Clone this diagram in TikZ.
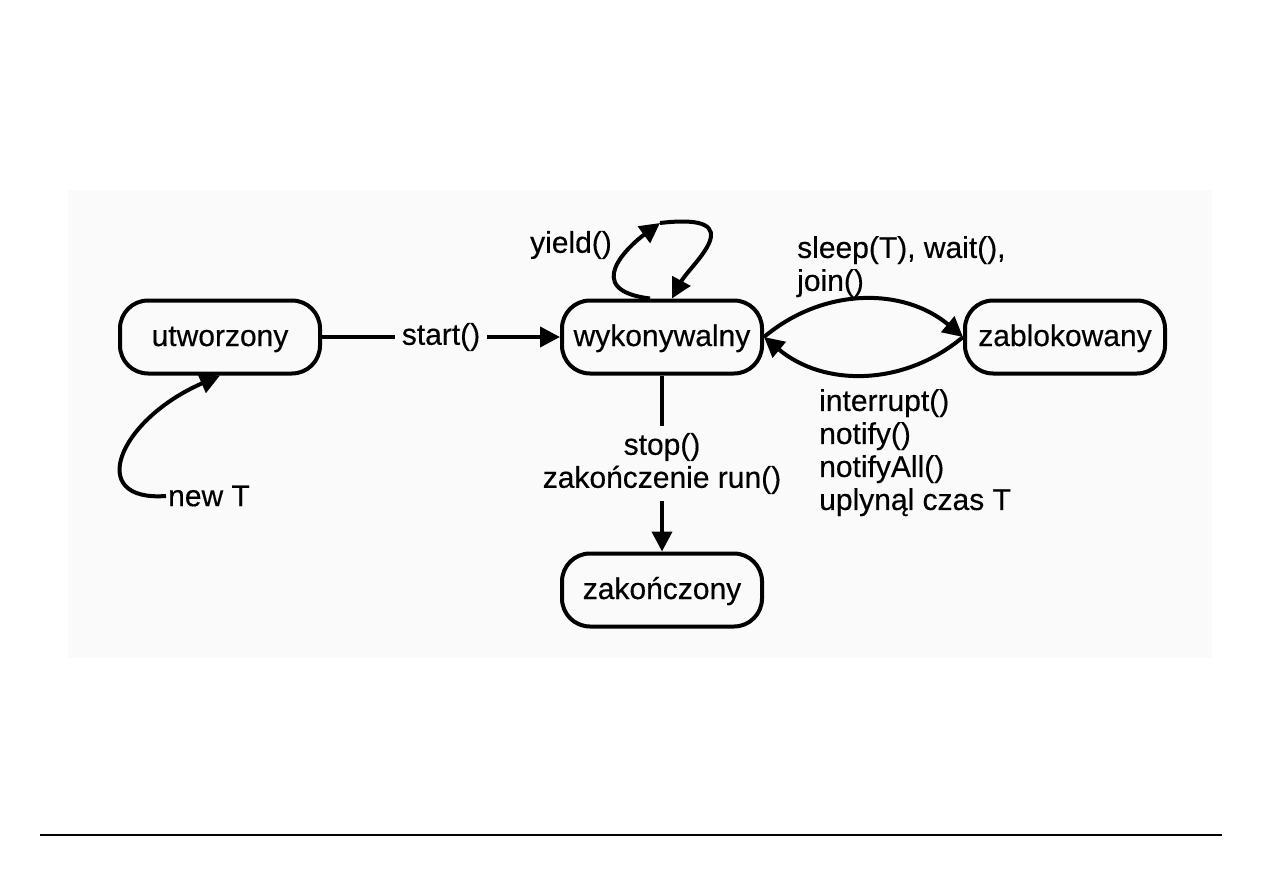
\documentclass[tikz,border=0pt]{standalone}
\usepackage{fontspec}
\setmainfont{Liberation Sans}[BoldFont=Liberation Sans, BoldFeatures={FakeBold=0.4}]
\usetikzlibrary{arrows.meta}
\definecolor{tlo}{RGB}{250,250,250}

\begin{document}
\begin{tikzpicture}[x=1pt, y=-1pt,
	stan/.style={draw, line width=4pt, rounded corners=28pt, minimum width=200pt, minimum height=73pt, text height=24pt, text depth=6pt, font=\fontsize{30}{33}\selectfont\bfseries},
	opis/.style={font=\fontsize{30}{33}\selectfont\bfseries, inner sep=2pt},
	przerwa/.style={opis, fill=tlo, inner sep=7pt, align=center},
	strz/.style={line width=4pt, -{Triangle[length=20pt, width=20pt]}}]
	\useasboundingbox (0,0) rectangle (1263,893);
	\fill [tlo] (68,190) rectangle (1212,658);
	\draw [line width=1.5pt] (40,835) -- (1222,835);

	% stany
	\node [stan] (utw) at (220,337) {utworzony};
	\node [stan] (wyk) at (662,337) {wykonywalny};
	\node [stan] (zab) at (1065,337) {zablokowany};
	\node [stan] (zak) at (662,590) {zakończony};

	% opisy
	\node [opis, anchor=west] (newT) at (166,496) {new T};
	\node [opis] (yield) at (571,245) {yield()};
	\node [opis, anchor=north west, align=left] (usyp) at (795,234) {sleep(T), wait(),\\join()};
	\node [opis, anchor=north west, align=left] (budz) at (817,387) {interrupt()\\notify()\\notifyAll()\\uplynąl czas T};
	\coordinate (ygora) at (660,223);

	% przejscia
	\draw [strz] (newT.west) .. controls (85,502) and (118,420) .. (utw.south);
	\draw [strz] (utw) -- node [przerwa] {start()} (wyk);
	\draw [strz] ([xshift=-12pt]wyk.north) .. controls (580,290) and (630,245) .. (ygora);
	\draw [strz] (ygora) .. controls (755,212) and (690,265) .. ([xshift=10pt]wyk.north);
	\draw [strz] (wyk.east) to [bend left=40] (zab.west);
	\draw [strz] (zab.west) to [bend left=40] (wyk.east);
	\draw [strz] (wyk) -- node [przerwa] {stop()\\zakończenie run()} (zak);
\end{tikzpicture}
\end{document}
